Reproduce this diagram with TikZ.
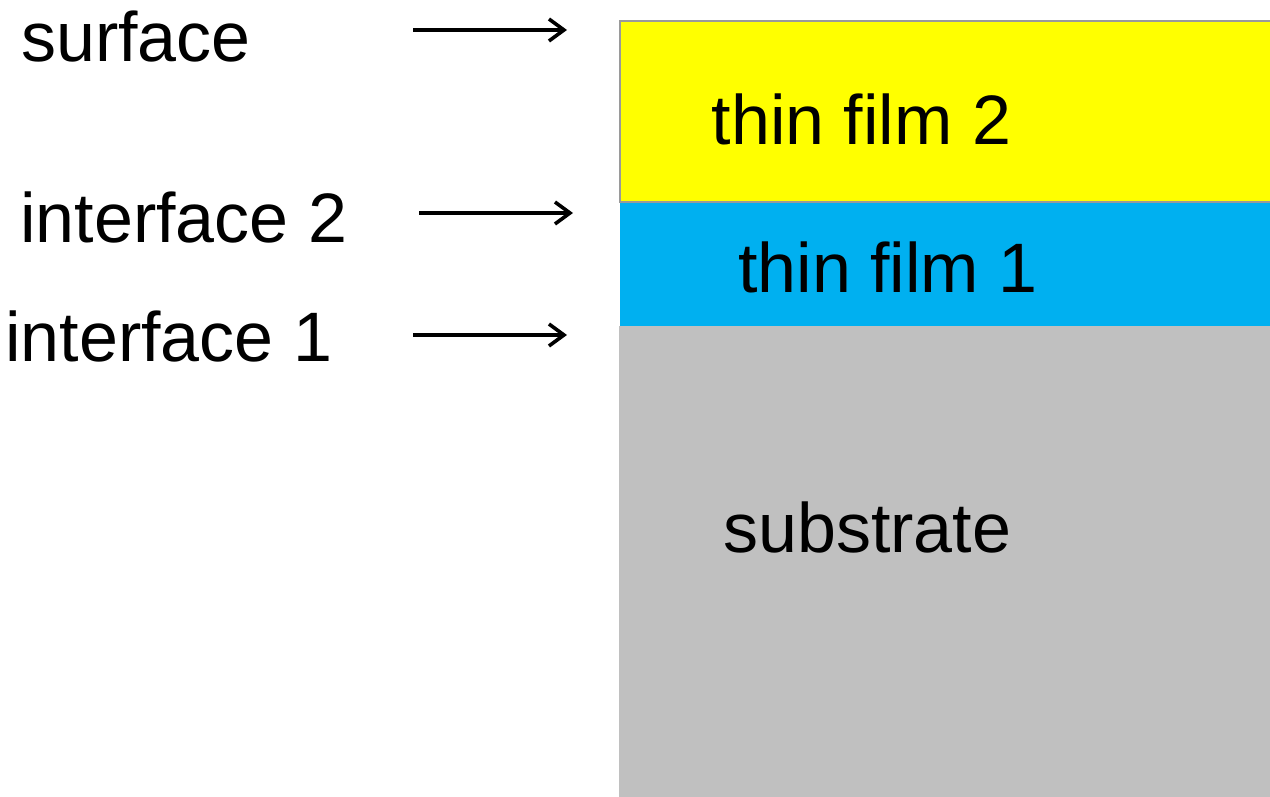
\documentclass[tikz,border=0pt]{standalone}
\usepackage{fontspec}
\setmainfont{Liberation Sans}
\usetikzlibrary{arrows.meta}
\definecolor{filmyellow}{HTML}{FFFF00}
\definecolor{filmblue}{HTML}{00B0F0}
\definecolor{subgray}{HTML}{C0C0C0}
\definecolor{edgegray}{HTML}{9A9A9A}
\tikzset{
  lbl/.style={anchor=base west, inner sep=0pt, font=\fontsize{70}{84}\selectfont},
  layer/.style={anchor=south west, inner sep=0pt, outer sep=0pt},
  pointer/.style={line width=3.6pt, -{Straight Barb[length=15pt,width=22pt]}},
}
\begin{document}
\begin{tikzpicture}[x=1pt,y=1pt]
\useasboundingbox (0,0) rectangle (1270,797);
\clip (0,0) rectangle (1270,797);
% layers
\node[layer, fill=subgray, minimum width=652pt, minimum height=471pt] (substrate) at (619,0) {};
\node[layer, fill=filmblue, minimum width=652pt, minimum height=124pt] (film1) at (620,471) {};
\node[layer, fill=filmyellow, draw=edgegray, line width=1.5pt, minimum width=660pt, minimum height=181pt] (film2) at (620,595) {};
% layer labels
\node[lbl] (tf2) at (711.5,652) {thin film 2};
\node[lbl] (tf1) at (738,504) {thin film 1};
\node[lbl] (sub) at (723,244) {substrate};
% left labels
\node[lbl] (surf) at (21,735) {surface};
\node[lbl] (if2) at (20,554) {interface 2};
\node[lbl] (if1) at (5,435) {interface 1};
% arrows
\coordinate (s0) at (413,767);
\coordinate (s1) at (567,767);
\coordinate (i20) at (419,584);
\coordinate (i21) at (573,584);
\coordinate (i10) at (413,462);
\coordinate (i11) at (567,462);
\draw[pointer] (s0) -- (s1);
\draw[pointer] (i20) -- (i21);
\draw[pointer] (i10) -- (i11);
\end{tikzpicture}
\end{document}
